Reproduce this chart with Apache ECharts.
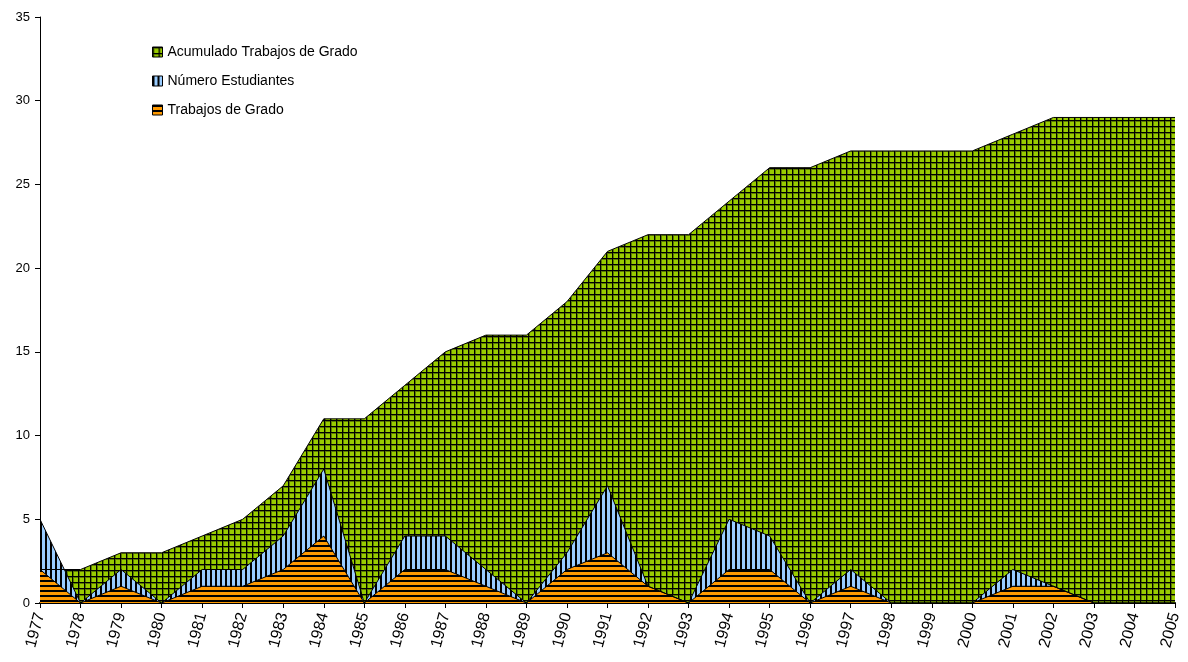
<!DOCTYPE html>
<html>
<head>
<meta charset="utf-8">
<script src="https://cdn.jsdelivr.net/npm/echarts@6/dist/echarts.min.js"></script>
<style>
  html, body { margin: 0; padding: 0; background: #fff; }
  #main { width: 1188px; height: 662px; }
</style>
</head>
<body>
<div id="main"></div>
<script>
// datos
const years = ['1977','1978','1979','1980','1981','1982','1983','1984','1985','1986',
  '1987','1988','1989','1990','1991','1992','1993','1994','1995','1996',
  '1997','1998','1999','2000','2001','2002','2003','2004','2005'];
const acumulado = [2,2,3,3,4,5,7,11,11,13,15,16,16,18,21,22,22,24,26,26,27,27,27,27,28,29,29,29,29];
const estudiantes = [5,0,2,0,2,2,4,8,0,4,4,2,0,3,7,1,0,5,4,0,2,0,0,0,2,1,0,0,0];
const trabajos = [2,0,1,0,1,1,2,4,0,2,2,1,0,2,3,1,0,2,2,0,1,0,0,0,1,1,0,0,0];
const yTicks = { min: 0, max: 35, interval: 5 };

// rellenos con trama (como en Excel)
function makePattern(kind) {
  const c = document.createElement('canvas');
  const ctx = c.getContext('2d');
  if (kind === 'grid') {
    c.width = 6; c.height = 6;
    ctx.fillStyle = '#99cc00'; ctx.fillRect(0, 0, 6, 6);
    ctx.fillStyle = '#5c7a00';
    ctx.fillRect(0, 1, 6, 1);
    ctx.fillRect(1, 0, 1, 6);
    ctx.fillStyle = '#000';
    ctx.fillRect(0, 0, 6, 1);
    ctx.fillRect(0, 0, 1, 6);
  } else if (kind === 'vert') {
    c.width = 5; c.height = 5;
    ctx.fillStyle = '#99ccff'; ctx.fillRect(0, 0, 5, 5);
    ctx.fillStyle = '#000';
    ctx.fillRect(0, 0, 2, 5);
  } else {
    c.width = 5; c.height = 5;
    ctx.fillStyle = '#ff9900'; ctx.fillRect(0, 0, 5, 5);
    ctx.fillStyle = '#000';
    ctx.fillRect(0, 0, 5, 2);
  }
  return { image: c, repeat: 'repeat' };
}
const greenFill = makePattern('grid');
const blueFill = makePattern('vert');
const orangeFill = makePattern('horiz');

const chart = echarts.init(document.getElementById('main'));

function areaSeries(name, data, fill) {
  return {
    name: name,
    type: 'line',
    data: data,
    symbol: 'none',
    animation: false,
    lineStyle: { color: '#000', width: 1 },
    itemStyle: { color: fill, borderColor: '#000', borderWidth: 1 },
    areaStyle: { color: fill, opacity: 1 }
  };
}

chart.setOption({
  backgroundColor: '#fff',
  animation: false,
  textStyle: { fontFamily: 'Liberation Sans, Arial, sans-serif' },
  grid: { left: 40, right: 13, top: 17, bottom: 59, containLabel: false },
  legend: {
    orient: 'vertical',
    left: 147,
    top: 40,
    itemWidth: 10,
    itemHeight: 10,
    itemGap: 15,
    icon: 'rect',
    textStyle: { fontSize: 14, color: '#000', fontFamily: 'Liberation Sans, Arial, sans-serif' },
    data: [
      { name: 'Acumulado Trabajos de Grado', itemStyle: { color: greenFill, borderColor: '#000', borderWidth: 1 } },
      { name: 'Número Estudiantes', itemStyle: { color: blueFill, borderColor: '#000', borderWidth: 1 } },
      { name: 'Trabajos de Grado', itemStyle: { color: orangeFill, borderColor: '#000', borderWidth: 1 } }
    ]
  },
  xAxis: {
    type: 'category',
    data: years,
    boundaryGap: false,
    axisLine: { lineStyle: { color: '#000', width: 2 } },
    axisTick: { alignWithLabel: true, length: 5, lineStyle: { color: '#000' } },
    axisLabel: { rotate: 75, interval: 0, fontSize: 16, color: '#000', margin: 10 },
    splitLine: { show: false }
  },
  yAxis: {
    type: 'value',
    min: yTicks.min,
    max: yTicks.max,
    interval: yTicks.interval,
    axisLine: { show: true, lineStyle: { color: '#000', width: 1 } },
    axisTick: { show: true, length: 5, lineStyle: { color: '#000' } },
    axisLabel: { fontSize: 13, color: '#000', margin: 10 },
    splitLine: { show: false }
  },
  series: [
    areaSeries('Acumulado Trabajos de Grado', acumulado, greenFill),
    areaSeries('Número Estudiantes', estudiantes, blueFill),
    areaSeries('Trabajos de Grado', trabajos, orangeFill)
  ]
});
</script>
</body>
</html>
